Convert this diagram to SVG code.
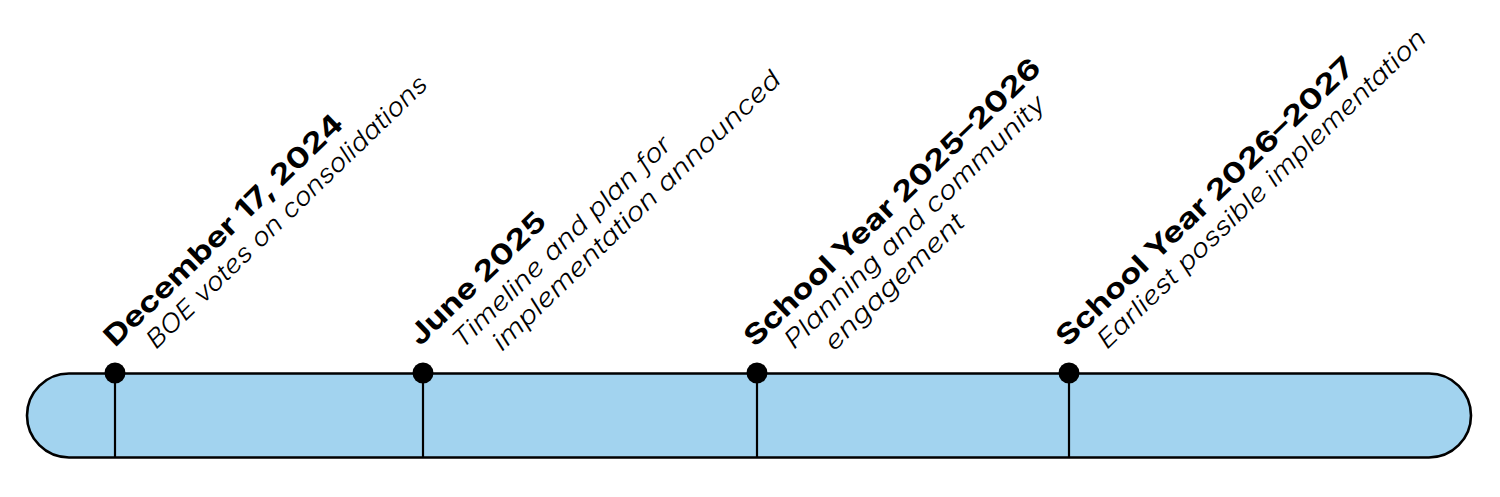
<svg xmlns="http://www.w3.org/2000/svg" width="1500" height="497" viewBox="0 0 1500 497">
  <style>
    .title { font-family: Inter, "Noto Sans", "Liberation Sans", sans-serif; font-weight: 700; font-size: 28px; fill: #000; }
    .sub { font-family: Inter, Lato, "Noto Sans", sans-serif; font-weight: 300; font-style: italic; font-size: 25px; fill: #000; }
    .dot { fill: #000; }
    .tick { stroke: #000; stroke-width: 2.2; }
  </style>
  <rect width="1500" height="497" fill="#fff"/>
  <g id="bar">
    <rect x="27" y="373.5" width="1444" height="84" rx="42" ry="42" fill="#a2d3ef" stroke="#000" stroke-width="2.6"/>
  </g>
  <g id="connectors">
    <line class="tick" x1="115" y1="373" x2="115" y2="458"/>
    <line class="tick" x1="423" y1="373" x2="423" y2="458"/>
    <line class="tick" x1="757" y1="373" x2="757" y2="458"/>
    <line class="tick" x1="1069" y1="373" x2="1069" y2="458"/>
  </g>
  <g id="node1">
    <circle class="dot" cx="115" cy="373" r="10.5"/>
    <text class="title" x="115" y="348" transform="rotate(-44 115 348)" textLength="320" lengthAdjust="spacingAndGlyphs">December 17, 2024</text>
    <text class="sub" x="156" y="350" transform="rotate(-44 156 350)" textLength="380" lengthAdjust="spacingAndGlyphs">BOE votes on consolidations</text>
  </g>
  <g id="node2">
    <circle class="dot" cx="423" cy="373" r="10.5"/>
    <text class="title" x="420" y="347" transform="rotate(-44 420 347)" textLength="178" lengthAdjust="spacingAndGlyphs">June 2025</text>
    <text class="sub" x="462" y="350" transform="rotate(-44 462 350)" textLength="293" lengthAdjust="spacingAndGlyphs">Timeline and plan for</text>
    <text class="sub" x="502" y="352" transform="rotate(-44 502 352)" textLength="390" lengthAdjust="spacingAndGlyphs">implementation announced</text>
  </g>
  <g id="node3">
    <circle class="dot" cx="757" cy="373" r="10.5"/>
    <text class="title" x="755" y="348" transform="rotate(-44 755 348)" textLength="400" lengthAdjust="spacingAndGlyphs">School Year 2025–2026</text>
    <text class="sub" x="794" y="350" transform="rotate(-44 794 350)" textLength="352" lengthAdjust="spacingAndGlyphs">Planning and community</text>
    <text class="sub" x="834" y="352" transform="rotate(-44 834 352)" textLength="184" lengthAdjust="spacingAndGlyphs">engagement</text>
  </g>
  <g id="node4">
    <circle class="dot" cx="1069" cy="373" r="10.5"/>
    <text class="title" x="1067" y="348" transform="rotate(-44 1067 348)" textLength="402" lengthAdjust="spacingAndGlyphs">School Year 2026–2027</text>
    <text class="sub" x="1107" y="350" transform="rotate(-44 1107 350)" textLength="446" lengthAdjust="spacingAndGlyphs">Earliest possible implementation</text>
  </g>
</svg>
